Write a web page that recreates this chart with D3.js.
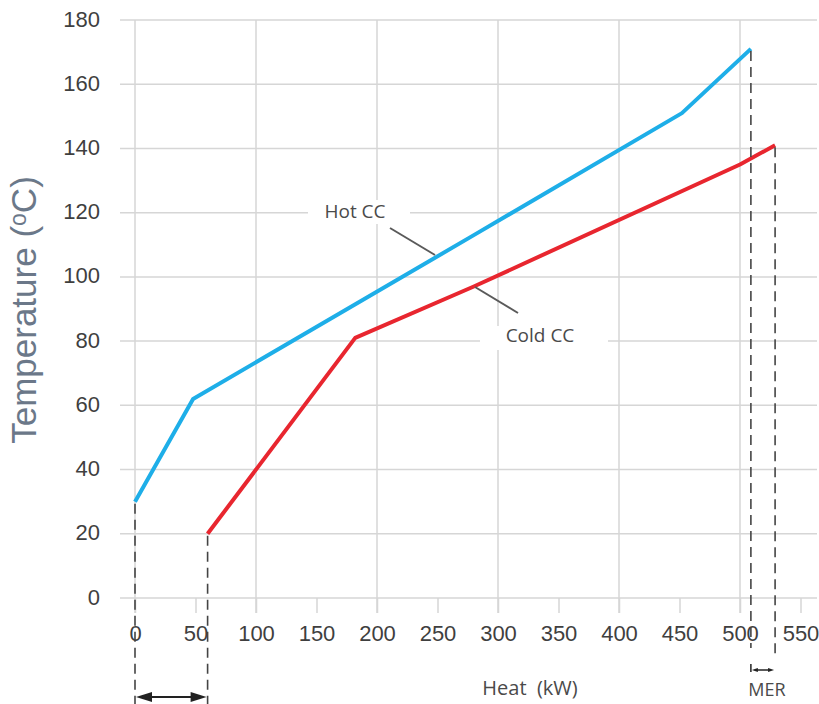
<!DOCTYPE html>
<html lang="en">
<head>
<meta charset="utf-8">
<title>Composite curves</title>
<script src="https://d3js.org/d3.v7.min.js"></script>
<style>
  body { margin: 0; background: #fff; }
  .tick text { font-family: "Liberation Sans", Arial, sans-serif; fill: #3f3f3f; }
</style>
</head>
<body>
<script>
// data
var hotHeat = [0, 48, 280, 452, 509];
var hotTemp = [30, 62, 113, 151, 171];
var coldHeat = [60, 182, 280, 500, 529];
var coldTemp = [20, 81, 97, 135, 141];
var yTicks = [0, 20, 40, 60, 80, 100, 120, 140, 160, 180];
var xTicks = [0, 50, 100, 150, 200, 250, 300, 350, 400, 450, 500, 550];
var xGrid = [0, 100, 200, 300, 400, 500];
var mer = [509, 529];       // end of hot and cold curves
var minCold = [0, 60];      // start of hot and cold curves

var W = 819, H = 704;
var x = d3.scaleLinear().domain([0, 550]).range([135, 800.5]);
var y = d3.scaleLinear().domain([0, 180]).range([598, 20]);

var svg = d3.select("body").append("svg").attr("width", W).attr("height", H);

// gridlines
var grid = svg.append("g").attr("stroke", "#d6d6d6").attr("stroke-width", 1.5);
grid.selectAll(".h").data(yTicks).enter().append("line")
  .attr("x1", 120).attr("x2", 817)
  .attr("y1", d => y(d)).attr("y2", d => y(d));
grid.selectAll(".v").data(xGrid).enter().append("line")
  .attr("x1", d => x(d)).attr("x2", d => x(d))
  .attr("y1", y(180)).attr("y2", 613);

// y axis labels
var yAxis = d3.axisLeft(y).tickValues(yTicks).tickSize(0).tickPadding(0);
svg.append("g").attr("transform", "translate(100,-1)").call(yAxis)
  .call(g => g.select(".domain").remove())
  .selectAll("text").style("font-size", "22px");

// x axis ticks + labels
var xAxis = d3.axisBottom(x).tickValues(xTicks).tickSize(15).tickPadding(12);
svg.append("g").attr("transform", "translate(0," + y(0) + ")").call(xAxis)
  .call(g => g.select(".domain").remove())
  .call(g => g.selectAll("line").attr("stroke", "#d6d6d6").attr("stroke-width", 1.5))
  .selectAll("text").style("font-size", "22px");

// white boxes behind labels cut the gridlines
svg.append("rect").attr("x", 308).attr("y", 200).attr("width", 102).attr("height", 24).attr("fill", "#fff");
svg.append("rect").attr("x", 480).attr("y", 326).attr("width", 128).attr("height", 24).attr("fill", "#fff");

var line = d3.line().x(d => x(d[0])).y(d => y(d[1]));
var hot = hotHeat.map((h, i) => [h, hotTemp[i]]);
var cold = coldHeat.map((h, i) => [h, coldTemp[i]]);

svg.append("path").datum(hot).attr("d", line)
  .attr("fill", "none").attr("stroke", "#1eaee8").attr("stroke-width", 4).attr("stroke-linejoin", "round");
svg.append("path").datum(cold).attr("d", line)
  .attr("fill", "none").attr("stroke", "#e8262f").attr("stroke-width", 4).attr("stroke-linejoin", "round");

// labels with leader lines
var lab = svg.append("g").attr("font-family", "'Open Sans', 'Noto Sans', sans-serif")
  .attr("font-size", "19px").attr("fill", "#4a4a4a");
lab.append("text").attr("x", 355).attr("y", 218).attr("text-anchor", "middle").text("Hot CC");
lab.append("text").attr("x", 540).attr("y", 342).attr("text-anchor", "middle").text("Cold CC");
svg.append("line").attr("x1", 390).attr("y1", 228).attr("x2", 435).attr("y2", 255)
  .attr("stroke", "#5a5a5a").attr("stroke-width", 2);
svg.append("line").attr("x1", 475).attr("y1", 287).attr("x2", 518).attr("y2", 313)
  .attr("stroke", "#5a5a5a").attr("stroke-width", 2);

// dashed drop lines
var dash = svg.append("g").attr("stroke", "#444").attr("stroke-width", 1.6).attr("stroke-dasharray", "10,6");
dash.append("line").attr("x1", x(minCold[0])).attr("x2", x(minCold[0])).attr("y1", y(hotTemp[0]) + 2).attr("y2", 704);
dash.append("line").attr("x1", x(minCold[1])).attr("x2", x(minCold[1])).attr("y1", y(coldTemp[0]) + 2).attr("y2", 704);
dash.append("line").attr("x1", x(mer[0])).attr("x2", x(mer[0])).attr("y1", y(hotTemp[4]) + 2).attr("y2", 648);
dash.append("line").attr("x1", x(mer[1])).attr("x2", x(mer[1])).attr("y1", y(coldTemp[4]) + 2).attr("y2", 655);

// double arrows
function arrow(x1, x2, yy, len, hw, sw) {
  var g = svg.append("g").attr("fill", "#222").attr("stroke", "#222");
  g.append("line").attr("x1", x1 + len / 2).attr("x2", x2 - len / 2).attr("y1", yy).attr("y2", yy).attr("stroke-width", sw);
  g.append("path").attr("stroke", "none")
    .attr("d", "M" + x1 + "," + yy + "L" + (x1 + len) + "," + (yy - hw) + "L" + (x1 + len) + "," + (yy + hw) + "Z");
  g.append("path").attr("stroke", "none")
    .attr("d", "M" + x2 + "," + yy + "L" + (x2 - len) + "," + (yy - hw) + "L" + (x2 - len) + "," + (yy + hw) + "Z");
}
arrow(x(minCold[0]) + 1, x(minCold[1]) - 1, 697, 16, 5, 2);
arrow(x(mer[0]) + 1, x(mer[1]) - 1, 670, 6, 2, 1.5);
svg.append("line").attr("x1", x(mer[0])).attr("x2", x(mer[0])).attr("y1", 664).attr("y2", 672)
  .attr("stroke", "#222").attr("stroke-width", 1.5);

// axis titles
svg.append("text").attr("x", 530).attr("y", 695).attr("text-anchor", "middle")
  .attr("font-family", "'Open Sans', 'Noto Sans', sans-serif").attr("font-size", "20px").attr("fill", "#4a4a4a")
  .attr("xml:space", "preserve").text("Heat  (kW)");
svg.append("text").attr("x", 767).attr("y", 696).attr("text-anchor", "middle")
  .attr("font-family", "'Open Sans', 'Noto Sans', sans-serif").attr("font-size", "18px").attr("fill", "#4a4a4a")
  .text("MER");

var yt = svg.append("text").attr("transform", "translate(36,310) rotate(-90)").attr("text-anchor", "middle")
  .attr("font-family", "'Liberation Sans', Arial, sans-serif").attr("font-size", "35px").attr("fill", "#6b7889");
yt.append("tspan").text("Temperature (");
yt.append("tspan").attr("font-size", "23px").attr("dy", -10).text("o");
yt.append("tspan").attr("dy", 10).text("C)");
</script>
</body>
</html>
